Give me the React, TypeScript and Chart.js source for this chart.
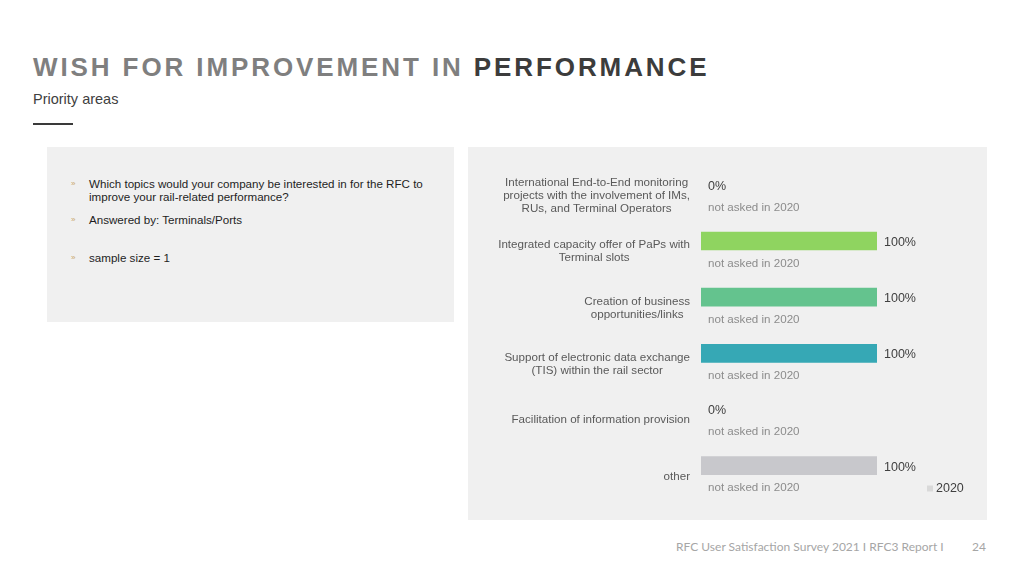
import React, { useEffect, useRef } from "react";
import { Chart, registerables } from "chart.js";

Chart.register(...registerables);

const categories: string[][] = [
  ["International End-to-End monitoring", "projects with the involvement of IMs,", "RUs, and Terminal Operators"],
  ["Integrated capacity offer of PaPs with", "Terminal slots"],
  ["Creation of business", "opportunities/links"],
  ["Support of electronic data exchange", "(TIS) within the rail sector"],
  ["Facilitation of information provision"],
  ["other"],
];
const values2021: number[] = [0, 100, 100, 100, 0, 100];
const values2020: (number | null)[] = [null, null, null, null, null, null];
const colors2021: string[] = ["#8fd460", "#8fd460", "#64c38e", "#36a8b5", "#b9b9bd", "#c8c8cc"];
const color2020 = "#d9d9d9";
const notAskedLabel = "not asked in 2020";
const seriesNames = ["2021", "2020"];

const bullets: string[][] = [
  ["Which topics would your company be interested in for the RFC to", "improve your rail-related performance?"],
  ["Answered by: Terminals/Ports"],
  ["sample size = 1"],
];

const FONT = "'Liberation Sans', Arial, Helvetica, sans-serif";

const overlayPlugin = {
  id: "overlay",
  afterDatasetsDraw(chart: any) {
    const ctx = chart.ctx as CanvasRenderingContext2D;
    const area = chart.chartArea;
    const yScale = chart.scales.y;
    const xScale = chart.scales.x;
    const meta21 = chart.getDatasetMeta(0);
    const meta20 = chart.getDatasetMeta(1);
    ctx.save();
    // category labels: centered lines, block right aligned
    ctx.font = `11.6px ${FONT}`;
    ctx.fillStyle = "#595959";
    ctx.textBaseline = "middle";
    ctx.textAlign = "center";
    categories.forEach((lines, i) => {
      const cy = yScale.getPixelForValue(i) - 0.5;
      const w = Math.max(...lines.map((l) => ctx.measureText(l).width));
      const cx = area.left - 11 - w / 2;
      const lh = 13;
      const start = cy - ((lines.length - 1) * lh) / 2;
      lines.forEach((l, j) => ctx.fillText(l, cx, start + j * lh));
    });
    // value labels 2021
    ctx.textAlign = "left";
    ctx.font = `12.5px ${FONT}`;
    ctx.fillStyle = "#404040";
    meta21.data.forEach((el: any, i: number) => {
      ctx.fillText(`${values2021[i]}%`, el.x + 7, el.y + 1.5);
    });
    // not asked labels 2020
    ctx.font = `11.6px ${FONT}`;
    ctx.fillStyle = "#8c8c8c";
    meta20.data.forEach((el: any, i: number) => {
      if (values2020[i] == null) {
        ctx.fillText(notAskedLabel, xScale.getPixelForValue(0) + 7, el.y);
      }
    });
    // legend (2020 only)
    ctx.fillStyle = color2020;
    ctx.fillRect(area.right + 50, area.bottom - 19.5, 6, 6);
    ctx.font = `12.5px ${FONT}`;
    ctx.fillStyle = "#404040";
    ctx.fillText(seriesNames[1], area.right + 59, area.bottom - 16);
    ctx.restore();
  },
};

function BarChart() {
  const ref = useRef<HTMLCanvasElement>(null);
  useEffect(() => {
    if (!ref.current) return;
    const chart = new Chart(ref.current, {
      type: "bar",
      data: {
        labels: categories.map((c) => c.join(" ")),
        datasets: [
          {
            label: seriesNames[0],
            data: values2021,
            backgroundColor: colors2021,
            borderWidth: 0,
            categoryPercentage: 0.8,
            barPercentage: 0.83,
          },
          {
            label: seriesNames[1],
            data: values2020 as any,
            backgroundColor: color2020,
            borderWidth: 0,
            categoryPercentage: 0.8,
            barPercentage: 0.83,
          },
        ],
      },
      options: {
        indexAxis: "y",
        animation: false,
        responsive: false,
        maintainAspectRatio: false,
        layout: { padding: { left: 233, right: 110, top: 21, bottom: 15 } },
        scales: {
          x: { display: false, min: 0, max: 100 },
          y: { display: false },
        },
        plugins: {
          legend: { display: false },
          tooltip: { enabled: false },
        },
      },
      plugins: [overlayPlugin],
    });
    return () => chart.destroy();
  }, []);
  return <canvas ref={ref} width={519} height={373} style={{ position: "absolute", left: 468, top: 147, width: 519, height: 373 }} />;
}

export default function App() {
  return (
    <div style={{ position: "absolute", left: 0, top: 0, width: 1024, height: 576, background: "#ffffff", overflow: "hidden", fontFamily: FONT }}>
      <div style={{ position: "absolute", left: 33, top: 54, fontSize: 26, lineHeight: "26px", fontWeight: 700, letterSpacing: 2.9, whiteSpace: "nowrap" }}>
        <span style={{ color: "#7f7f7f" }}>WISH FOR IMPROVEMENT IN </span>
        <span style={{ color: "#3c3c3c" }}>PERFORMANCE</span>
      </div>
      <div style={{ position: "absolute", left: 33, top: 92, fontSize: 14.5, lineHeight: "15px", color: "#404040", whiteSpace: "nowrap" }}>Priority areas</div>
      <div style={{ position: "absolute", left: 33, top: 123, width: 40, height: 2, background: "#3a3a3a" }} />

      <div style={{ position: "absolute", left: 47, top: 147, width: 407, height: 175, background: "#f0f0f0" }} />
      {bullets.map((lines, i) => {
        const tops = [176.5, 212.5, 250.5];
        return (
          <div key={i} style={{ position: "absolute", left: 0, top: tops[i] }}>
            <div style={{ position: "absolute", left: 71, top: 0, fontSize: 8, lineHeight: "13px", color: "#c9a66b", whiteSpace: "nowrap" }}>»</div>
            {lines.map((l, j) => (
              <div key={j} style={{ position: "absolute", left: 89, top: j * 13, fontSize: 11.6, lineHeight: "13px", color: "#1e1e1e", whiteSpace: "nowrap" }}>{l}</div>
            ))}
          </div>
        );
      })}

      <div style={{ position: "absolute", left: 468, top: 147, width: 519, height: 373, background: "#f0f0f0" }} />
      <BarChart />

      <div style={{ position: "absolute", left: 676, top: 538.5, fontSize: 12, lineHeight: "16px", color: "#a6a6a6", fontFamily: "Lato, 'Open Sans', sans-serif", whiteSpace: "nowrap" }}>RFC User Satisfaction Survey 2021 I RFC3 Report I</div>
      <div style={{ position: "absolute", left: 972, top: 538.5, fontSize: 12, lineHeight: "16px", color: "#a6a6a6", fontFamily: "Lato, 'Open Sans', sans-serif", whiteSpace: "nowrap" }}>24</div>
    </div>
  );
}
